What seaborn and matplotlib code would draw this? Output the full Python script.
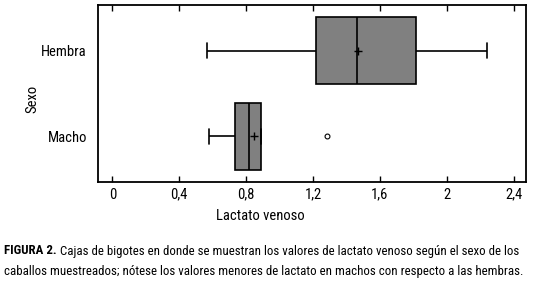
import pandas as pd
import numpy as np
import seaborn as sns
import matplotlib as mpl
import matplotlib.pyplot as plt

sns.set_style("white")
plt.rcParams['font.family'] = ['Roboto Condensed', 'DejaVu Sans']
plt.rcParams['text.color'] = 'black'
plt.rcParams['axes.labelcolor'] = 'black'
plt.rcParams['xtick.color'] = 'black'
plt.rcParams['ytick.color'] = 'black'

# valores (resumen de cinco números por sexo)
sexo = ["Hembra", "Macho"]
hembra = [0.565, 1.22, 1.465, 1.815, 2.239]
macho = [0.577, 0.736, 0.736, 0.819, 0.819, 0.891, 0.891, 0.891, 1.286]
medias = [1.47, 0.848]
xticks = [0, 0.4, 0.8, 1.2, 1.6, 2.0, 2.4]
xtick_labels = ["0", "0,4", "0,8", "1,2", "1,6", "2", "2,4"]

df = pd.DataFrame({
    "Lactato venoso": hembra + macho,
    "Sexo": [sexo[0]] * len(hembra) + [sexo[1]] * len(macho),
})

fig = plt.figure(figsize=(5.53, 2.85), dpi=100)
ax = fig.add_axes([98 / 553, 1 - 182 / 285, 428 / 553, 177 / 285])

sns.boxplot(data=df, x="Lactato venoso", y="Sexo", order=sexo, orient="h",
            width=0.78, color="#808080", linecolor="black", linewidth=1.2,
            whis=1.5, saturation=1, ax=ax, capwidths=0.18,
            flierprops=dict(marker="o", markersize=3.5, markerfacecolor="white",
                            markeredgecolor="black", markeredgewidth=0.8))
sns.scatterplot(x=medias, y=sexo, marker="+", s=40, color="black",
                linewidth=1.0, ax=ax, zorder=5)

ax.set_xlim(-0.086, 2.474)
ax.set_ylim(1.531, -0.534)
ax.set_xticks(xticks)
ax.set_xticklabels(xtick_labels)
ax.tick_params(axis="x", direction="in", length=4.5, width=1, top=True,
               bottom=True, labelsize=10.5, pad=4)
ax.tick_params(axis="y", length=0, labelsize=10.5, pad=8)
for s in ax.spines.values():
    s.set_visible(True)
    s.set_linewidth(1.3)
    s.set_color("black")

ax.set_xlabel("Lactato venoso", fontsize=10.5)
ax.set_ylabel("Sexo", fontsize=10.5)
ax.xaxis.set_label_coords(0.379, -0.15)
ax.yaxis.set_label_coords(-0.138, 0.47)

# pie de figura
fs = 9.3
t1 = fig.text(4 / 553, 1 - 251 / 285, "FIGURA 2.", fontsize=fs,
              fontweight="bold", va="center", ha="left")
fig.canvas.draw()
bb = t1.get_window_extent()
fig.text((bb.x1 + 3) / 553, 1 - 251 / 285,
         "Cajas de bigotes en donde se muestran los valores de lactato venoso según el sexo de los",
         fontsize=fs, va="center", ha="left")
fig.text(4 / 553, 1 - 271 / 285,
         "caballos muestreados; nótese los valores menores de lactato en machos con respecto a las hembras.",
         fontsize=fs, va="center", ha="left")

fig.savefig("out.png", dpi=100)
